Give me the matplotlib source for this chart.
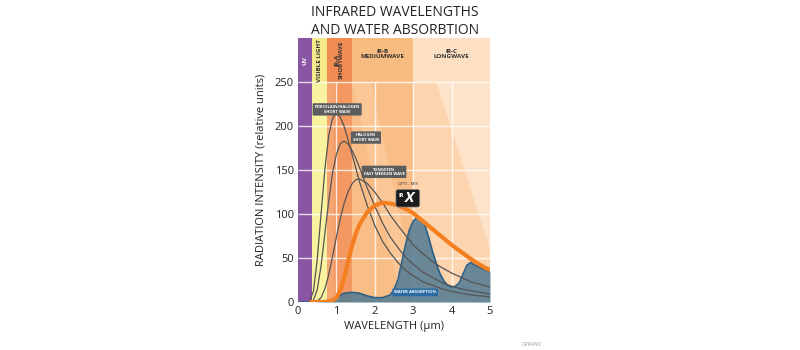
import numpy as np
import matplotlib.pyplot as plt
from matplotlib.patches import Rectangle, Polygon, FancyBboxPatch

plt.rcParams['font.family'] = ['Open Sans', 'DejaVu Sans']

# wavelength grid (um) and curve values
wavelength = [0.3, 0.4, 0.5, 0.6, 0.7, 0.8, 0.9, 1.0, 1.1, 1.2, 1.3, 1.4, 1.5, 1.6,
              1.8, 2.0, 2.2, 2.4, 2.6, 2.8, 3.0, 3.25, 3.5, 3.75, 4.0, 4.25, 4.5, 4.75, 5.0]
porcelain = [1, 12, 48, 100, 151, 189, 209, 215, 210, 200, 185, 169, 153, 137,
             110, 87, 69, 56, 45, 36, 30, 23, 19, 15, 12, 10, 8, 7, 6]
halogen = [0, 2, 14, 41, 78, 115, 147, 168, 180, 183, 180, 173, 164, 153,
           130, 109, 90, 74, 62, 51, 43, 34, 28, 22, 18, 15, 13, 11, 9]
tungsten = [0, 0, 1, 5, 15, 31, 52, 74, 95, 112, 125, 134, 139, 140,
            135, 125, 113, 99, 87, 76, 65, 55, 46, 39, 33, 28, 23, 20, 17]
optimix = [0, 0, 0, 0, 0, 1, 2, 5, 13, 27, 45, 63, 77, 88,
           102, 110, 113, 112, 110, 106, 101, 92, 83, 74, 65, 57, 49, 42, 36]

water_wl = [0.0, 0.35, 0.8, 1.0, 1.1, 1.2, 1.4, 1.6, 1.8, 2.0, 2.2, 2.4, 2.5, 2.6, 2.7,
            2.8, 2.9, 3.0, 3.1, 3.2, 3.3, 3.4, 3.5, 3.6, 3.7, 3.8, 3.9, 4.0, 4.1,
            4.2, 4.3, 4.4, 4.5, 4.6, 4.8, 5.0]
water = [0, 0, 1, 4, 8, 10, 11, 10, 7, 5, 5, 8, 14, 25, 45,
         65, 82, 92, 96, 95, 88, 74, 58, 44, 32, 24, 19, 17, 18,
         22, 32, 42, 45, 42, 38, 34]

band_names = ["UV", "VISIBLE LIGHT", "IR-A\nSHORTWAVE", "IR-B\nMEDIUMWAVE", "IR-C\nLONGWAVE"]
band_edges = [0.0, 0.37, 0.75, 1.4, 3.0, 5.0]

head_colors = ["#8a55a3", "#f6ea8a", "#f08b52", "#f8bb82", "#fde0c3"]
body_colors = ["#8a55a3", "#f9f29e", "#f29860", "#f9be88", "#fde3c9"]

fig = plt.figure(figsize=(8, 3.5), dpi=100)
ax = fig.add_axes([0.3725, 0.137, 0.24, 0.754])
ax.set_xlim(0, 5)
ax.set_ylim(0, 300)

for i in range(len(band_names)):
    x0, x1 = band_edges[i], band_edges[i + 1]
    ax.add_patch(Rectangle((x0, 0), x1 - x0, 250, color=body_colors[i], lw=0, zorder=0))
    ax.add_patch(Rectangle((x0, 250), x1 - x0, 50, color=head_colors[i], lw=0, zorder=0))

# decorative shading inside the bands
ax.add_patch(Rectangle((0.75, 0), 0.2, 250, color="#f5a572", lw=0, zorder=0.5))
ax.add_patch(Polygon([(1.4, 250), (1.9, 250), (3.0, 30), (3.0, 0), (2.7, 0)],
                     closed=True, color="#fbc797", lw=0, zorder=0.5))
ax.add_patch(Polygon([(3.0, 0), (3.0, 250), (3.6, 250), (5.0, 60), (5.0, 0)],
                     closed=True, color="#fcd4ae", lw=0, zorder=0.5))

ax.vlines([1, 2, 3, 4], 0, 250, color="white", lw=1, alpha=0.8, zorder=1)
ax.hlines([50, 100, 150, 200, 250], 0, 5, color="white", lw=1, alpha=0.8, zorder=1)

ax.fill_between(water_wl, water, color="#4f7a93", alpha=0.85, lw=0, zorder=2)
ax.plot(water_wl, water, color="#2b5f86", lw=1.2, zorder=2)

for series in [porcelain, halogen, tungsten]:
    ax.plot(wavelength, series, color="#555555", lw=0.9, zorder=3)
ax.plot(wavelength, optimix, color="#f47f20", lw=3, zorder=4, solid_capstyle="butt")

# band titles
ax.text(0.18, 275, band_names[0], rotation=90, ha="center", va="center",
        fontsize=4.5, fontweight="bold", color="white", zorder=5)
ax.text(0.56, 275, band_names[1], rotation=90, ha="center", va="center",
        fontsize=4.5, fontweight="bold", color="#333333", zorder=5)
ax.text(1.07, 275, band_names[2], rotation=90, ha="center", va="center",
        fontsize=4.5, fontweight="bold", color="#333333", zorder=5, linespacing=1.0)
ax.text(2.2, 282, band_names[3], ha="center", va="center",
        fontsize=4.5, fontweight="bold", color="#333333", zorder=5, linespacing=1.1)
ax.text(4.0, 282, band_names[4], ha="center", va="center",
        fontsize=4.5, fontweight="bold", color="#333333", zorder=5, linespacing=1.1)


def tag(x, y, txt, fc):
    ax.text(x, y, txt, ha="center", va="center", fontsize=3, fontweight="bold",
            color="white", linespacing=1.2, zorder=6,
            bbox=dict(boxstyle="round,pad=0.45,rounding_size=0.2", fc=fc, ec="none"))


tag(1.02, 219, "PORCELAIN/HALOGEN\nSHORT WAVE", "#5d5d5d")
tag(1.77, 187, "HALOGEN\nSHORT WAVE", "#5d5d5d")
tag(2.24, 148, "TUNGSTEN\nFAST MEDIUM WAVE", "#5d5d5d")
tag(3.05, 11, "WATER ABSORPTION", "#2a6ba3")

# OPTI-MIX badge
ax.text(2.86, 134, "OPTI - MIX", ha="center", va="center", fontsize=3,
        color="#333333", zorder=6)
ax.add_patch(FancyBboxPatch((2.55, 108), 0.62, 20, boxstyle="round,pad=0,rounding_size=0.06",
                            fc="#1c1c1c", ec="#888888", lw=0.5, zorder=6,
                            mutation_aspect=40))
ax.text(2.68, 121, "IR", ha="center", va="center", fontsize=4, fontweight="bold",
        color="white", zorder=7)
ax.text(2.9, 118, "X", ha="center", va="center", fontsize=11, fontweight="bold",
        fontstyle="italic", color="white", zorder=7)

for s in ax.spines.values():
    s.set_visible(False)
ax.set_xticks([0, 1, 2, 3, 4, 5])
ax.set_yticks([0, 50, 100, 150, 200, 250])
ax.tick_params(length=0, labelsize=8, colors="#222222", pad=3)
ax.set_xlabel("WAVELENGTH (μm)", fontsize=8, color="#222222", labelpad=3)
ax.set_ylabel("RADIATION INTENSITY (relative units)", fontsize=8, color="#222222", labelpad=6)

fig.text(0.494, 0.985, "INFRARED WAVELENGTHS\nAND WATER ABSORBTION", ha="center", va="top",
         fontsize=10, color="#222222", linespacing=1.25)
fig.text(0.665, 0.008, "OPRANIC", fontsize=3.5, color="#999999", ha="center", va="bottom")

fig.savefig("out.png", dpi=100)
